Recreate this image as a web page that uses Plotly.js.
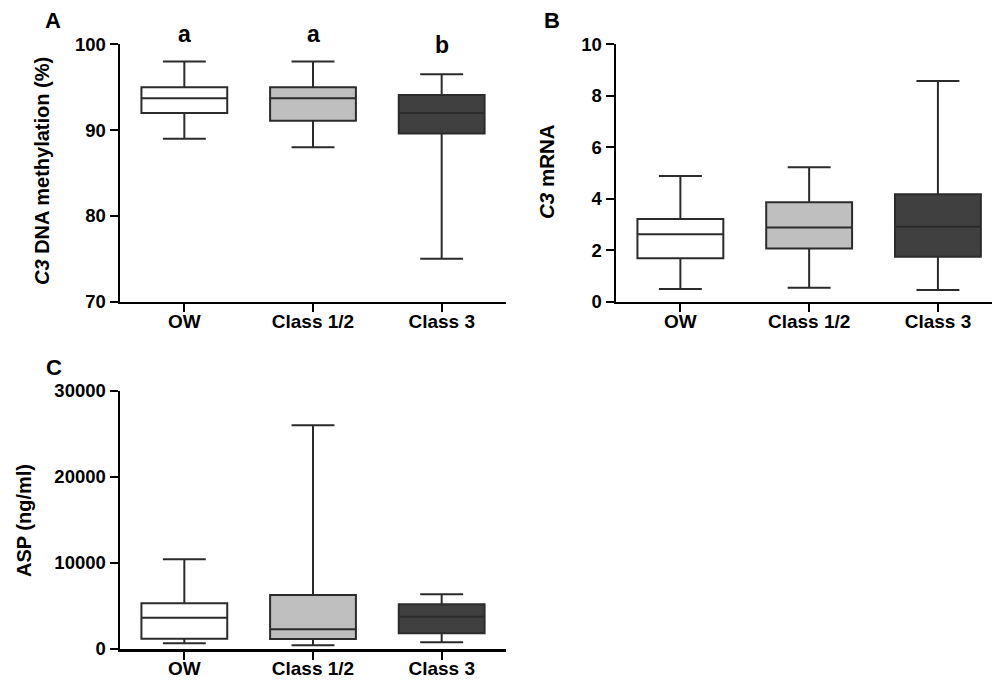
<!DOCTYPE html>
<html>
<head>
<meta charset="utf-8">
<script src="https://cdn.plot.ly/plotly-3.0.1.min.js"></script>
<style>html,body{margin:0;padding:0;background:#fff;}#chart{width:992px;height:680px;}</style>
</head>
<body>
<div id="chart"></div>
<script>
// ---- Data ----
const categories = ['OW', 'Class 1/2', 'Class 3'];
const fillColors = ['#ffffff', '#bfbfbf', '#404040'];

// Panel A: C3 DNA methylation (%)
const methylLower  = [89.0, 88.0, 75.0];
const methylQ1     = [92.0, 91.1, 89.6];
const methylMedian = [93.7, 93.7, 92.0];
const methylQ3     = [95.0, 95.0, 94.1];
const methylUpper  = [98.0, 98.0, 96.5];
const sigLetters   = ['a', 'a', 'b'];

// Panel B: C3 mRNA
const mrnaLower  = [0.49, 0.54, 0.45];
const mrnaQ1     = [1.69, 2.07, 1.75];
const mrnaMedian = [2.62, 2.88, 2.91];
const mrnaQ3     = [3.21, 3.86, 4.17];
const mrnaUpper  = [4.88, 5.22, 8.57];

// Panel C: ASP (ng/ml)
const aspLower  = [660, 430, 780];
const aspQ1     = [1200, 1160, 1820];
const aspMedian = [3640, 2290, 3760];
const aspQ3     = [5310, 6280, 5190];
const aspUpper  = [10430, 26010, 6360];

// ---- Build ----
const W = 992, H = 680;
const FONT = 'Liberation Sans, Arial, sans-serif';

function boxTraces(lower, q1, med, q3, upper, xa, ya) {
  return categories.map((c, i) => ({
    type: 'box',
    x: [c],
    lowerfence: [lower[i]],
    q1: [q1[i]],
    median: [med[i]],
    q3: [q3[i]],
    upperfence: [upper[i]],
    xaxis: xa, yaxis: ya,
    width: 0.667,
    whiskerwidth: 0.5,
    fillcolor: fillColors[i],
    line: {color: '#2b2b2b', width: 2},
    boxpoints: false,
    showlegend: false,
    hoverinfo: 'skip'
  }));
}

const traces = [
  ...boxTraces(methylLower, methylQ1, methylMedian, methylQ3, methylUpper, 'x', 'y'),
  ...boxTraces(mrnaLower, mrnaQ1, mrnaMedian, mrnaQ3, mrnaUpper, 'x2', 'y2'),
  ...boxTraces(aspLower, aspQ1, aspMedian, aspQ3, aspUpper, 'x3', 'y3')
];

function px2x(p) { return p / W; }
function px2y(p) { return 1 - p / H; }

const axisCommon = {
  showline: true, linecolor: '#000', linewidth: 2.5,
  ticks: 'outside', ticklen: 8, tickwidth: 2, tickcolor: '#000',
  showgrid: false, zeroline: false, fixedrange: true
};
function xAxis(domain, range, anchor) {
  return Object.assign({}, axisCommon, {
    type: 'category', categoryorder: 'array', categoryarray: categories,
    domain: domain, range: range, anchor: anchor,
    ticklabelstandoff: -7,
    tickfont: {family: FONT, size: 19, color: '#000', weight: 'bold'}
  });
}
function yAxis(domain, range, dtick, anchor) {
  return Object.assign({}, axisCommon, {
    domain: domain, range: range, dtick: dtick, anchor: anchor,
    tickformat: 'd',
    tickfont: {family: FONT, size: 18.5, color: '#000', weight: 'bold'}
  });
}

const topDom = [px2y(301.7), px2y(44.3)];
const botDom = [px2y(649), px2y(391)];

const annFont = (s) => ({family: FONT, size: s, color: '#000', weight: 'bold'});
const annotations = [
  // panel letters
  {text: 'A', x: px2x(53), y: px2y(20.4), xref: 'paper', yref: 'paper', showarrow: false, font: annFont(22), xanchor: 'center', yanchor: 'middle'},
  {text: 'B', x: px2x(552), y: px2y(20.4), xref: 'paper', yref: 'paper', showarrow: false, font: annFont(22), xanchor: 'center', yanchor: 'middle'},
  {text: 'C', x: px2x(54), y: px2y(367.4), xref: 'paper', yref: 'paper', showarrow: false, font: annFont(22), xanchor: 'center', yanchor: 'middle'},
  // y axis titles
  {text: '<i>C3</i> DNA methylation (%)', x: px2x(42), y: px2y(171), xref: 'paper', yref: 'paper', textangle: -90, showarrow: false, font: annFont(20), xanchor: 'center', yanchor: 'middle'},
  {text: '<i>C3</i> mRNA', x: px2x(546), y: px2y(172), xref: 'paper', yref: 'paper', textangle: -90, showarrow: false, font: annFont(20.5), xanchor: 'center', yanchor: 'middle'},
  {text: 'ASP (ng/ml)', x: px2x(24), y: px2y(521), xref: 'paper', yref: 'paper', textangle: -90, showarrow: false, font: annFont(20), xanchor: 'center', yanchor: 'middle'}
];
// significance letters above panel A boxes (x by category, y in pixels of the page)
const letterPx = [34.3, 34.3, 45.0];
sigLetters.forEach((t, i) => {
  annotations.push({text: t, x: categories[i], y: px2y(letterPx[i]), xref: 'x', yref: 'paper', showarrow: false, font: annFont(23), xanchor: 'center', yanchor: 'middle'});
});

const layout = {
  width: W, height: H,
  margin: {l: 0, r: 0, t: 0, b: 0, pad: 0},
  paper_bgcolor: '#fff', plot_bgcolor: 'rgba(0,0,0,0)',
  boxmode: 'overlay',
  showlegend: false,
  xaxis:  xAxis([px2x(120), px2x(506)], [-0.5, 2.5], 'y'),
  yaxis:  yAxis(topDom, [70, 100], 10, 'x'),
  xaxis2: xAxis([px2x(616), 1], [-0.5, 2.42], 'y2'),
  yaxis2: yAxis(topDom, [0, 10], 2, 'x2'),
  xaxis3: xAxis([px2x(120), px2x(506)], [-0.5, 2.5], 'y3'),
  yaxis3: yAxis(botDom, [0, 30000], 10000, 'x3'),
  annotations: annotations
};

Plotly.newPlot('chart', traces, layout, {displayModeBar: false, staticPlot: true});
</script>
</body>
</html>
